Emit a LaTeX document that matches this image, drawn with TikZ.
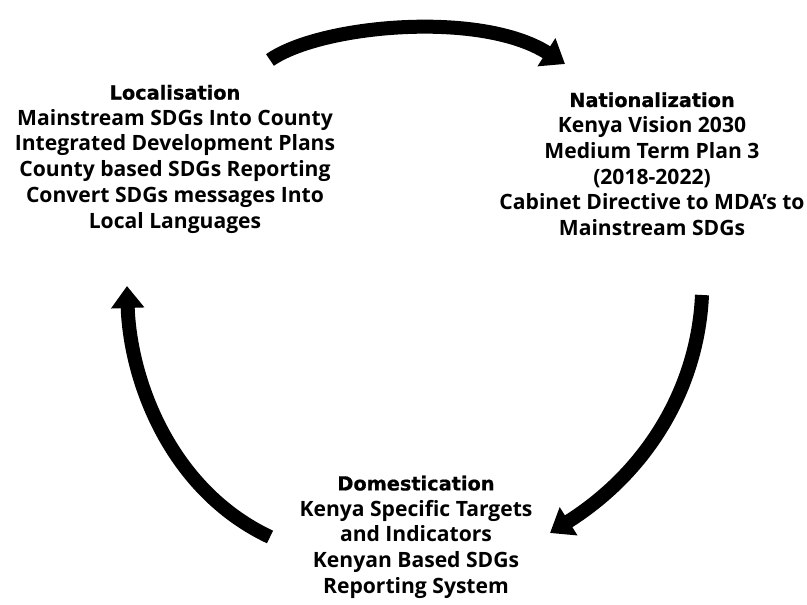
\documentclass[tikz,border=0pt]{standalone}
\usepackage{fontspec}
\setmainfont{Open Sans}
\newfontfamily\heavyfont{DejaVu Sans}[FakeBold=0.8]
\usetikzlibrary{arrows.meta}
\tikzset{
  blocktext/.style={align=center, inner sep=0pt, font=\bfseries\fontsize{21.1}{25.7}\selectfont},
  cyclearrow/.style={line width=14pt, -{Triangle[length=22pt,width=32pt]}},
}
\newcommand{\blocktitle}[1]{{\heavyfont\bfseries\fontsize{19.3}{25.7}\selectfont #1}}
\begin{document}
\begin{tikzpicture}[x=1pt,y=-1pt]
\useasboundingbox (0,0) rectangle (807,605);
\node[blocktext] (loc) at (175,159) {\blocktitle{Localisation}\\Mainstream SDGs Into County\\Integrated Development Plans\\County based SDGs Reporting\\Convert SDGs messages Into\\Local Languages};
\node[blocktext] (nat) at (652,164) {\blocktitle{Nationalization}\\Kenya Vision 2030\\Medium Term Plan 3\\(2018-2022)\\Cabinet Directive to MDA's to\\Mainstream SDGs};
\node[blocktext] (dom) at (416,537) {\blocktitle{Domestication}\\Kenya Specific Targets\\and Indicators\\Kenyan Based SDGs\\Reporting System};
\coordinate (t1) at (270,60);
\coordinate (t2) at (565,64);
\coordinate (r1) at (702,295);
\coordinate (r2) at (550,533);
\coordinate (l1) at (270,537);
\coordinate (l2) at (127,286);
\draw[cyclearrow] (t1) .. controls (320,25) and (480,10) .. (t2);
\draw[cyclearrow] (r1) .. controls (698,385) and (650,470) .. (r2);
\draw[cyclearrow] (l1) .. controls (170,490) and (130,380) .. (l2);
\end{tikzpicture}
\end{document}
